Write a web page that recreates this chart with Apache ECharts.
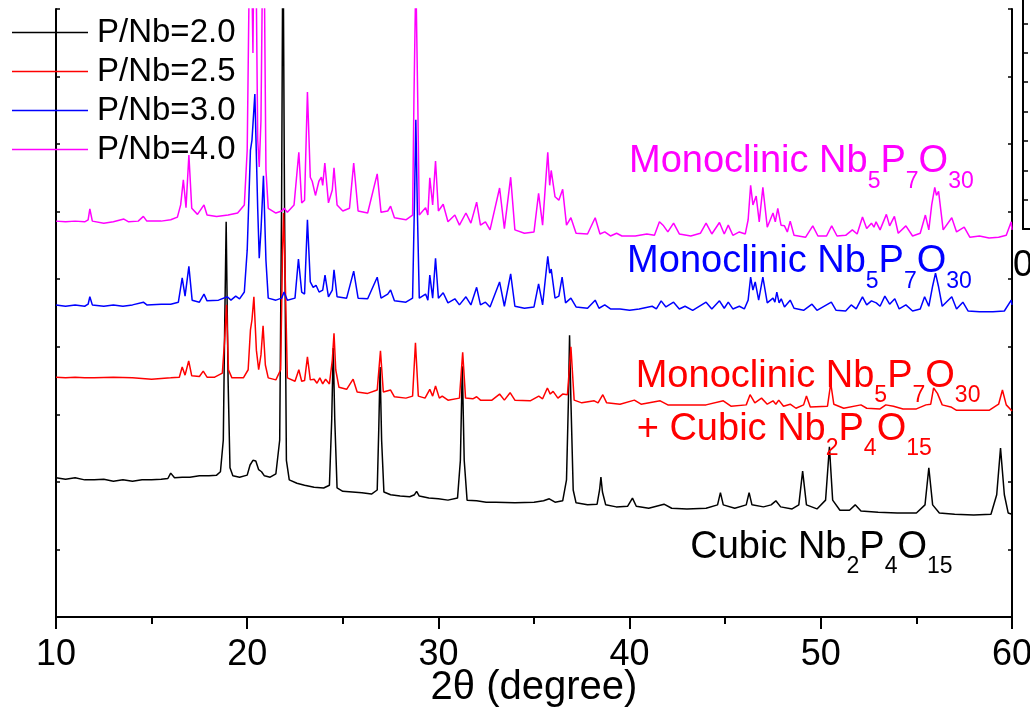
<!DOCTYPE html>
<html>
<head>
<meta charset="utf-8">
<script src="https://cdn.jsdelivr.net/npm/echarts@6/dist/echarts.min.js"></script>
<style>
  html, body { margin: 0; padding: 0; background: #ffffff; }
  #chart { width: 1030px; height: 708px; }
</style>
</head>
<body>
<div id="chart"></div>
<script>
// XRD patterns of niobium phosphates prepared with different P/Nb ratios,
// stacked with an intensity offset (a.u.). Each point is [2theta (deg), intensity].
const seriesNames = ['P/Nb=2.0', 'P/Nb=2.5', 'P/Nb=3.0', 'P/Nb=4.0'];
const seriesColors = ['#000000', '#ff0000', '#0000ff', '#ff00ff'];

const pnb20 = [
  [10.0,206],[10.5,204],[11.0,206],[11.5,203],[12.0,203],[12.5,204],[13.0,201],[13.5,203],[14.0,201],[14.5,203],
  [15.0,203],[15.5,204],[15.85,205],[16.0,213],[16.2,206],[16.6,207],[17.0,207],[17.5,209],[18.0,209],[18.4,210],
  [18.6,215],[18.75,262],[18.82,425],[18.9,585],[19.0,351],[19.1,221],[19.25,209],[19.6,207],[20.0,210],[20.15,225],
  [20.3,232],[20.45,231],[20.6,218],[20.75,215],[20.9,209],[21.2,207],[21.5,212],[21.7,262],[21.8,617],[21.87,1050],
  [21.95,617],[22.05,232],[22.2,203],[22.6,198],[23.0,195],[23.5,192],[24.0,191],[24.3,195],[24.42,292],[24.5,398],
  [24.58,292],[24.7,191],[25.0,186],[25.5,185],[26.0,184],[26.5,182],[26.8,188],[26.88,277],[26.95,370],[27.03,262],
  [27.15,185],[27.5,181],[28.0,179],[28.5,178],[28.75,181],[28.86,186],[29.0,179],[29.5,176],[30.0,175],[30.5,173],
  [31.0,176],[31.15,232],[31.25,371],[31.35,232],[31.5,173],[32.0,172],[32.5,170],[33.0,170],[34.0,169],[35.0,170],
  [35.5,172],[35.8,175],[36.1,170],[36.5,172],[36.7,203],[36.8,321],[36.86,417],[36.93,321],[37.05,188],[37.2,169],
  [37.8,166],[38.3,167],[38.43,188],[38.5,207],[38.58,185],[38.75,166],[39.3,163],[39.9,164],[40.15,176],[40.35,164],
  [41.0,161],[41.8,167],[42.2,161],[43.0,160],[44.0,161],[44.6,166],[44.75,184],[44.9,166],[45.5,161],[46.1,166],
  [46.25,184],[46.4,166],[47.0,163],[47.4,166],[47.65,172],[47.9,163],[48.5,160],[48.85,166],[49.05,216],[49.25,166],
  [49.8,160],[50.25,173],[50.45,252],[50.62,173],[51.0,158],[51.5,158],[51.8,166],[52.1,157],[53.0,155],[54.0,154],
  [55.0,154],[55.45,166],[55.65,221],[55.85,166],[56.2,154],[57.0,152],[58.0,151],[58.9,152],[59.2,181],[59.4,250],
  [59.6,181],[59.8,154],[60.0,152]
];

const pnb25 = [
  [10.0,355],[10.5,354],[11.0,355],[11.5,354],[12.0,354],[13.0,355],[14.0,354],[15.0,352],[16.0,354],[16.45,355],
  [16.6,370],[16.75,358],[16.94,379],[17.1,357],[17.5,356],[17.7,364],[17.9,355],[18.3,355],[18.7,361],[18.82,410],
  [18.92,462],[19.02,366],[19.2,354],[19.8,354],[20.05,366],[20.17,425],[20.25,440],[20.35,474],[20.48,395],[20.6,366],
  [20.72,388],[20.83,431],[20.95,373],[21.1,354],[21.5,351],[21.75,366],[21.85,543],[21.9,598],[21.97,528],[22.1,354],
  [22.5,349],[22.7,366],[22.85,349],[23.0,350],[23.15,385],[23.3,351],[23.5,352],[23.65,346],[23.8,354],[23.95,345],
  [24.1,352],[24.3,345],[24.45,380],[24.54,420],[24.63,366],[24.8,340],[25.2,337],[25.54,352],[25.75,333],[26.3,331],
  [26.8,336],[26.97,394],[27.12,333],[27.5,336],[27.7,326],[28.3,324],[28.65,327],[28.8,406],[28.95,327],[29.3,324],
  [29.55,337],[29.7,327],[29.85,342],[30.05,324],[30.2,327],[30.5,321],[31.1,324],[31.27,392],[31.42,324],[31.8,323],
  [32.0,326],[32.2,321],[32.8,321],[33.2,330],[33.45,321],[33.75,332],[34.0,321],[34.8,320],[35.25,327],[35.45,323],
  [35.7,339],[35.85,330],[36.0,334],[36.25,324],[36.5,330],[36.75,329],[36.93,400],[37.1,321],[37.5,317],[38.15,320],
  [38.35,317],[38.6,329],[38.8,317],[39.5,315],[40.25,321],[40.6,315],[41.6,320],[42.0,314],[43.0,314],[44.0,314],
  [44.9,320],[45.3,312],[46.1,314],[46.3,329],[46.55,317],[46.9,324],[47.2,315],[47.5,320],[47.65,315],[47.8,321],
  [48.05,312],[48.4,315],[48.7,309],[49.1,314],[49.25,327],[49.45,311],[50.35,312],[50.52,346],[50.68,315],[51.2,309],
  [52.1,314],[52.4,309],[53.1,308],[53.4,314],[53.8,312],[54.3,308],[55.0,308],[55.5,314],[55.75,315],[55.9,339],
  [56.1,331],[56.35,314],[56.8,311],[57.1,306],[58.0,306],[58.8,306],[59.3,315],[59.5,336],[59.7,314],[60.0,305]
];

const pnb30 = [
  [10.0,462],[10.5,460],[11.0,462],[11.5,460],[11.68,463],[11.77,474],[11.9,462],[12.5,460],[13.0,462],[13.5,460],
  [14.0,462],[14.57,466],[14.75,462],[15.5,463],[16.0,463],[16.4,466],[16.6,502],[16.75,475],[16.95,519],[17.12,469],
  [17.5,466],[17.74,478],[17.9,468],[18.5,469],[18.96,474],[19.15,469],[19.4,475],[19.6,471],[19.85,481],[20.0,543],
  [20.17,691],[20.25,706],[20.4,774],[20.55,604],[20.63,531],[20.72,572],[20.85,653],[20.98,528],[21.1,472],[21.5,469],
  [21.8,472],[21.93,481],[22.1,469],[22.5,472],[22.68,530],[22.85,481],[23.0,478],[23.15,588],[23.3,496],[23.45,488],
  [23.6,491],[23.76,481],[23.95,484],[24.07,506],[24.25,474],[24.45,484],[24.54,514],[24.7,474],[25.2,472],[25.57,512],
  [25.8,472],[26.3,471],[26.8,503],[27.0,472],[27.35,478],[27.5,484],[27.7,468],[28.3,466],[28.65,472],[28.75,617],
  [28.82,736],[28.9,602],[29.0,472],[29.33,478],[29.45,469],[29.55,506],[29.7,472],[29.85,531],[30.0,472],[30.25,480],
  [30.5,465],[30.86,471],[31.1,462],[31.44,474],[31.7,462],[32.0,488],[32.2,462],[32.46,466],[32.7,459],[33.2,496],
  [33.45,460],[33.78,508],[34.0,460],[34.5,457],[35.0,459],[35.24,493],[35.45,462],[35.72,534],[35.82,509],[35.9,515],
  [36.1,472],[36.3,475],[36.47,503],[36.65,465],[36.93,472],[37.2,459],[37.8,457],[38.2,469],[38.4,457],[38.7,462],
  [39.0,456],[39.5,456],[40.0,454],[40.5,456],[41.18,460],[41.4,456],[41.65,468],[41.9,459],[42.3,466],[42.6,456],
  [42.9,460],[43.3,454],[44.0,466],[44.3,456],[44.7,468],[44.95,457],[45.16,466],[45.4,456],[45.74,460],[46.0,456],
  [46.2,469],[46.33,503],[46.45,484],[46.57,496],[46.75,469],[46.97,503],[47.2,465],[47.5,472],[47.6,466],[47.7,481],
  [47.82,465],[47.93,471],[48.1,459],[48.4,469],[48.6,457],[49.1,454],[49.54,463],[49.8,454],[50.55,466],[50.8,454],
  [51.3,453],[51.59,462],[51.85,456],[52.18,474],[52.4,462],[52.65,468],[52.9,465],[53.1,460],[53.35,475],[53.6,463],
  [53.87,471],[54.1,456],[54.45,462],[54.8,453],[55.2,456],[55.43,474],[55.65,460],[55.85,490],[56.0,509],[56.15,490],
  [56.35,460],[56.85,474],[57.1,456],[57.43,466],[57.7,453],[58.3,452],[59.0,452],[59.6,453],[59.96,469],[60.0,462]
];

const pnb40 = [
  [10.0,586],[10.5,585],[11.0,586],[11.5,585],[11.68,588],[11.77,604],[11.9,586],[12.5,583],[13.0,585],[13.55,589],
  [13.8,585],[14.3,586],[14.57,593],[14.75,586],[15.5,586],[16.0,588],[16.35,592],[16.52,610],[16.66,647],[16.8,606],
  [16.95,684],[17.1,605],[17.4,596],[17.74,610],[17.9,595],[18.4,593],[19.0,595],[19.5,598],[19.85,610],[20.0,691],
  [20.17,1100],[20.3,835],[20.4,1150],[20.55,706],[20.63,666],[20.72,735],[20.85,1100],[20.98,662],[21.1,605],[21.5,598],
  [21.8,601],[21.93,605],[22.1,599],[22.45,610],[22.7,688],[22.85,613],[23.0,617],[23.15,777],[23.3,651],[23.4,645],
  [23.57,624],[23.75,645],[23.88,651],[23.95,639],[24.06,672],[24.25,613],[24.45,632],[24.54,665],[24.7,610],[25.0,601],
  [25.35,605],[25.57,672],[25.8,601],[26.3,598],[26.8,656],[27.0,599],[27.35,601],[27.5,608],[27.7,591],[28.3,588],
  [28.65,595],[28.72,765],[28.82,950],[28.92,765],[29.0,595],[29.33,606],[29.45,595],[29.55,650],[29.7,610],[29.85,675],
  [30.0,601],[30.25,611],[30.5,585],[30.86,595],[31.1,580],[31.44,598],[31.7,583],[32.0,614],[32.2,580],[32.46,585],
  [32.7,573],[33.2,635],[33.45,575],[33.78,651],[34.0,573],[34.5,568],[35.0,570],[35.24,627],[35.45,580],[35.72,688],
  [35.82,639],[35.9,661],[36.1,622],[36.3,617],[36.5,633],[36.7,580],[36.93,591],[37.2,568],[37.8,567],[38.2,591],
  [38.45,567],[38.7,570],[39.0,564],[39.32,568],[39.6,564],[40.3,564],[40.9,567],[41.3,565],[41.56,585],[41.75,580],
  [42.0,570],[42.3,583],[42.6,567],[43.2,564],[43.7,568],[44.0,583],[44.3,567],[44.7,584],[44.95,567],[45.16,580],
  [45.4,565],[45.74,570],[46.05,567],[46.2,588],[46.33,639],[46.45,610],[46.62,623],[46.78,585],[46.97,636],[47.2,577],
  [47.5,598],[47.62,585],[47.75,605],[47.92,580],[48.1,579],[48.25,570],[48.4,586],[48.6,565],[49.2,562],[49.58,579],
  [49.85,564],[50.3,564],[50.57,579],[50.85,564],[51.3,565],[51.65,573],[51.9,567],[52.18,592],[52.4,575],[52.65,583],
  [52.78,577],[52.89,585],[53.1,573],[53.43,596],[53.6,579],[53.85,593],[54.05,568],[54.45,579],[54.8,564],[55.2,568],
  [55.47,595],[55.65,573],[55.8,610],[55.96,636],[56.05,624],[56.16,630],[56.4,573],[56.85,591],[57.1,570],[57.5,577],
  [57.8,562],[58.3,564],[58.8,561],[59.3,562],[59.7,565],[59.96,585],[60.0,573]
];

const seriesData = [pnb20, pnb25, pnb30, pnb40];
// draw order: blue is painted over magenta where the traces cross
const seriesZ = [2, 3, 5, 4];

// phase assignments written next to the traces; [text, isSubscript]
const phaseNotes = [
  { color: '#ff00ff', at: [39.97, 654], parts: [['Monoclinic Nb', 0], ['5', 1], ['P', 0], ['7', 1], ['O', 0], ['30', 1]] },
  { color: '#0000ff', at: [39.87, 506], parts: [['Monoclinic Nb', 0], ['5', 1], ['P', 0], ['7', 1], ['O', 0], ['30', 1]] },
  { color: '#ff0000', at: [40.32, 337], parts: [['Monoclinic Nb', 0], ['5', 1], ['P', 0], ['7', 1], ['O', 0], ['30', 1]] },
  { color: '#ff0000', at: [40.37, 258], parts: [['+ Cubic Nb', 0], ['2', 1], ['P', 0], ['4', 1], ['O', 0], ['15', 1]] },
  { color: '#000000', at: [43.17, 84],  parts: [['Cubic Nb', 0], ['2', 1], ['P', 0], ['4', 1], ['O', 0], ['15', 1]] }
];

const FONT = '"Liberation Sans", Arial, Helvetica, sans-serif';
const AXIS_LINE = { show: true, lineStyle: { color: '#000', width: 2 } };

const chart = echarts.init(document.getElementById('chart'), null, { renderer: 'canvas' });

const option = {
  backgroundColor: '#ffffff',
  animation: false,
  textStyle: { fontFamily: FONT },
  grid: [
    { left: 56, right: 18, top: 9, bottom: 91, containLabel: false, outerBoundsMode: 'none' },
    // partially visible neighbouring panel at the right edge
    { left: 1023, top: -6, width: 400, height: 235, containLabel: false, outerBoundsMode: 'none' }
  ],
  legend: {
    orient: 'vertical',
    left: 12,
    top: 13,
    padding: 0,
    itemGap: 0,
    itemWidth: 76,
    itemHeight: 1.3,
    icon: 'rect',
    selectedMode: false,
    data: seriesNames,
    textStyle: { fontSize: 33, lineHeight: 39, color: '#000', fontFamily: FONT, padding: [0, 0, 0, 4] }
  },
  xAxis: [
    {
      type: 'value', gridIndex: 0, position: 'bottom',
      min: 10, max: 60, interval: 10,
      axisLine: AXIS_LINE,
      axisTick: { show: true, inside: false, length: 12, lineStyle: { color: '#000', width: 2 } },
      minorTick: { show: true, splitNumber: 2, length: 7, lineStyle: { color: '#000', width: 2 } },
      splitLine: { show: false }, minorSplitLine: { show: false },
      axisLabel: { show: true, fontSize: 36, color: '#000', margin: 20, fontFamily: FONT },
      name: '2θ (degree)', nameLocation: 'middle', nameGap: 51, nameMoveOverlap: false,
      nameTextStyle: { fontSize: 40, color: '#000', fontFamily: FONT }
    },
    {
      type: 'value', gridIndex: 0, position: 'top',
      min: 10, max: 60, interval: 5,
      axisLine: AXIS_LINE,
      axisTick: { show: true, inside: true, length: 4, lineStyle: { color: '#000', width: 1.5 } },
      splitLine: { show: false }, axisLabel: { show: false }
    },
    {
      type: 'value', gridIndex: 1, position: 'bottom',
      min: 0, max: 100, interval: 100,
      axisLine: AXIS_LINE,
      axisTick: { show: false },
      splitLine: { show: false },
      axisLabel: { show: true, fontSize: 36, color: '#000', margin: 19, fontFamily: FONT }
    }
  ],
  yAxis: [
    {
      type: 'value', gridIndex: 0, position: 'left',
      min: 0, max: 900, interval: 100,
      axisLine: AXIS_LINE,
      axisTick: { show: true, inside: true, length: 4, lineStyle: { color: '#000', width: 1.5 } },
      splitLine: { show: false }, axisLabel: { show: false }
    },
    {
      type: 'value', gridIndex: 0, position: 'right',
      min: 0, max: 900, interval: 100,
      axisLine: AXIS_LINE,
      axisTick: { show: true, inside: true, length: 4, lineStyle: { color: '#000', width: 1.5 } },
      splitLine: { show: false }, axisLabel: { show: false }
    },
    {
      type: 'value', gridIndex: 1, position: 'left',
      min: 0, max: 8, interval: 1,
      axisLine: AXIS_LINE,
      axisTick: { show: true, inside: true, length: 5, lineStyle: { color: '#000', width: 1.5 } },
      splitLine: { show: false }, axisLabel: { show: false }
    }
  ],
  series: seriesNames.map((name, i) => ({
    name: name,
    type: 'line',
    xAxisIndex: 0,
    yAxisIndex: 0,
    data: seriesData[i],
    symbol: 'none',
    showSymbol: false,
    clip: true,
    z: seriesZ[i],
    color: seriesColors[i],
    lineStyle: { color: seriesColors[i], width: 1.5 },
    emphasis: { disabled: true }
  })).concat([{
    name: 'panel', type: 'line', xAxisIndex: 2, yAxisIndex: 2, data: [], symbol: 'none'
  }])
};

chart.setOption(option);

// place the phase notes, with subscripts dropped below the baseline
const measure = document.createElement('canvas').getContext('2d');
function textWidth(s, size) {
  measure.font = size + 'px ' + FONT;
  return measure.measureText(s).width;
}
const MAIN_SIZE = 38, SUB_SIZE = 23, SUB_DROP = 14;
const graphics = [];
phaseNotes.forEach(note => {
  const p = chart.convertToPixel({ xAxisIndex: 0, yAxisIndex: 0 }, note.at);
  let x = p[0];
  const baseline = p[1];
  note.parts.forEach(([t, sub]) => {
    const size = sub ? SUB_SIZE : MAIN_SIZE;
    const base = sub ? baseline + SUB_DROP : baseline;
    graphics.push({
      type: 'text',
      silent: true,
      z: 100,
      style: {
        text: t,
        x: x,
        y: base - 0.347 * size,
        font: size + 'px ' + FONT,
        fill: note.color,
        align: 'left',
        verticalAlign: 'middle'
      }
    });
    x += textWidth(t, size);
  });
});
chart.setOption({ graphic: graphics });
</script>
</body>
</html>
